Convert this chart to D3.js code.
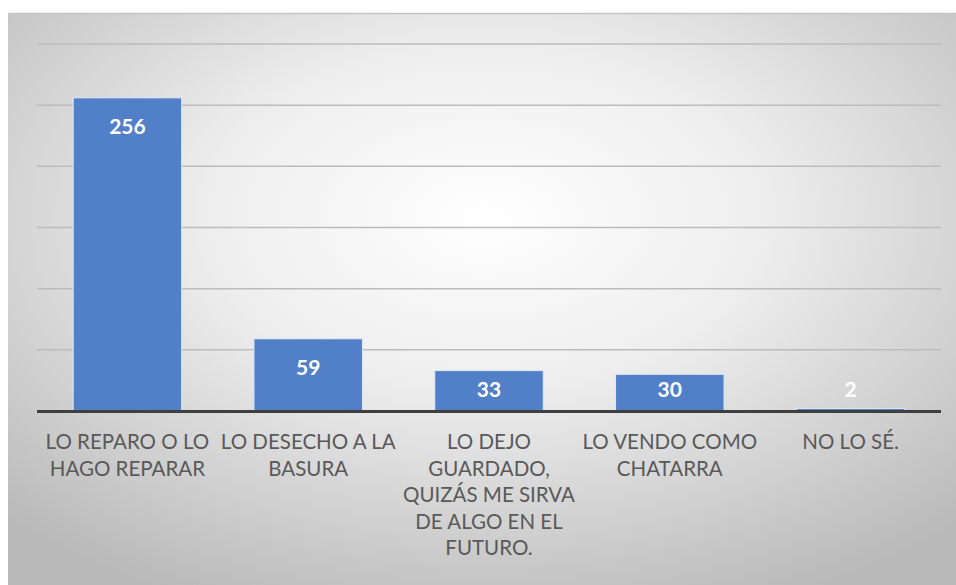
<!DOCTYPE html>
<html>
<head>
<meta charset="utf-8">
<script src="https://cdn.jsdelivr.net/npm/d3@7"></script>
<style>
  html, body { margin: 0; padding: 0; background: #ffffff; }
  svg { display: block; }
</style>
</head>
<body>
<svg id="chart"></svg>
<script>
var categories = [
  "LO REPARO O LO\nHAGO REPARAR",
  "LO DESECHO A LA\nBASURA",
  "LO DEJO\nGUARDADO,\nQUIZÁS ME SIRVA\nDE ALGO EN EL\nFUTURO.",
  "LO VENDO COMO\nCHATARRA",
  "NO LO SÉ."
];
var values = [256, 59, 33, 30, 2];
var gridTicks = [0, 50, 100, 150, 200, 250, 300];

var W = 956, H = 585;
var PLOT = { left: 37, right: 941, top: 44, bottom: 411 };

var svg = d3.select("#chart")
  .attr("width", W)
  .attr("height", H);

// radial background like the office chart style
var defs = svg.append("defs");
var grad = defs.append("radialGradient")
  .attr("id", "bg-grad")
  .attr("cx", "50%")
  .attr("cy", "35%")
  .attr("r", "72%");
grad.append("stop").attr("offset", "0%").attr("stop-color", "#ffffff");
grad.append("stop").attr("offset", "40%").attr("stop-color", "#eeeeee");
grad.append("stop").attr("offset", "100%").attr("stop-color", "#b9b9b9");

svg.append("rect")
  .attr("x", 8)
  .attr("y", 13)
  .attr("width", W)
  .attr("height", H)
  .attr("fill", "url(#bg-grad)");

svg.append("line")
  .attr("x1", 8).attr("x2", W)
  .attr("y1", 13.5).attr("y2", 13.5)
  .attr("stroke", "#c4c4c4")
  .attr("stroke-width", 1.5);

var x = d3.scaleBand()
  .domain(categories)
  .range([PLOT.left, PLOT.right])
  .paddingInner(0.4)
  .paddingOuter(0.2);

var y = d3.scaleLinear()
  .domain([0, 300])
  .range([PLOT.bottom, PLOT.top]);

// gridlines
svg.append("g")
  .selectAll("line")
  .data(gridTicks.filter(function(d) { return d > 0; }))
  .enter()
  .append("line")
  .attr("x1", PLOT.left)
  .attr("x2", PLOT.right)
  .attr("y1", function(d) { return y(d); })
  .attr("y2", function(d) { return y(d); })
  .attr("stroke", "#bcbcbc")
  .attr("stroke-width", 1.5);

// bars
var bars = svg.append("g");
bars.selectAll("rect")
  .data(values)
  .enter()
  .append("rect")
  .attr("x", function(d, i) { return x(categories[i]); })
  .attr("y", function(d) { return y(d); })
  .attr("width", x.bandwidth())
  .attr("height", function(d) { return y(0) - y(d); })
  .attr("fill", "#5180c8")
  .attr("stroke", "#dfe8f6")
  .attr("stroke-width", 1);

// baseline
svg.append("line")
  .attr("x1", PLOT.left)
  .attr("x2", PLOT.right)
  .attr("y1", y(0) + 0.5)
  .attr("y2", y(0) + 0.5)
  .attr("stroke", "#3f3f3f")
  .attr("stroke-width", 3);

// value labels, inside end, kept above the axis for short bars
svg.append("g")
  .selectAll("text")
  .data(values)
  .enter()
  .append("text")
  .attr("x", function(d, i) { return x(categories[i]) + x.bandwidth() / 2; })
  .attr("y", function(d) { return Math.min(y(d) + 28, y(0) - 23); })
  .attr("text-anchor", "middle")
  .attr("dominant-baseline", "central")
  .attr("font-family", "Lato, 'Open Sans', sans-serif")
  .attr("font-weight", "bold")
  .attr("font-size", "21px")
  .attr("fill", "#ffffff")
  .text(function(d) { return d; });

// category labels
var labels = svg.append("g")
  .selectAll("text")
  .data(categories)
  .enter()
  .append("text")
  .attr("x", function(d) { return x(d) + x.bandwidth() / 2; })
  .attr("y", 441)
  .attr("text-anchor", "middle")
  .attr("font-family", "Lato, 'Open Sans', sans-serif")
  .attr("font-size", "20.5px")
  .attr("fill", "#595959");

labels.each(function(d) {
  var t = d3.select(this);
  d.split("\n").forEach(function(line, k) {
    t.append("tspan")
      .attr("x", t.attr("x"))
      .attr("y", 441 + k * 26.5)
      .attr("dominant-baseline", "central")
      .text(line);
  });
});
</script>
</body>
</html>
